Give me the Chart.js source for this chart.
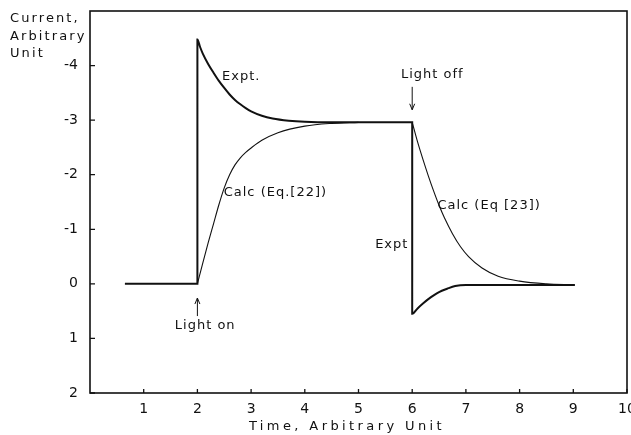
<!DOCTYPE html>
<html>
<head>
<meta charset="utf-8">
<script src="https://cdn.jsdelivr.net/npm/chart.js@4/dist/chart.umd.min.js"></script>
<style>
  html, body { margin: 0; padding: 0; background: #fff; }
  #wrap { width: 631px; height: 435px; }
</style>
</head>
<body>
<div id="wrap"><canvas id="chart"></canvas></div>
<script>
// values (x: time, y: current, y axis runs downwards)
const exptX = [0.65, 2.0, 2.0, 2.05, 2.1, 2.2, 2.3, 2.4, 2.5, 2.6, 2.7, 2.8, 2.9, 3.0, 3.2, 3.4, 3.7, 4.0, 4.5, 5.0, 6.0,
  6.0, 6.1, 6.2, 6.3, 6.4, 6.5, 6.65, 6.8, 7.0, 9.03];
const exptY = [0, 0, -4.48, -4.34, -4.22, -4.03, -3.87, -3.72, -3.59, -3.47, -3.37, -3.29, -3.22, -3.16, -3.08, -3.03, -2.99, -2.97, -2.96, -2.96, -2.96,
  0.55, 0.45, 0.36, 0.28, 0.21, 0.15, 0.09, 0.04, 0.02, 0.02];

const calc22X = [2.0, 2.1, 2.2, 2.3, 2.4, 2.5, 2.6, 2.7, 2.8, 2.9, 3.0, 3.2, 3.5, 4.0, 4.5, 5.0];
const calc22Y = [0, -0.38, -0.75, -1.1, -1.45, -1.76, -2.0, -2.18, -2.31, -2.41, -2.49, -2.63, -2.77, -2.89, -2.94, -2.96];

const calc23X = [6.0, 6.1, 6.2, 6.3, 6.4, 6.5, 6.6, 6.75, 6.9, 7.05, 7.3, 7.6, 8.0, 8.5, 9.0];
const calc23Y = [-2.96, -2.6, -2.28, -1.98, -1.7, -1.44, -1.21, -0.92, -0.68, -0.5, -0.29, -0.14, -0.05, 0, 0.02];

const xTicks = [1, 2, 3, 4, 5, 6, 7, 8, 9, 10];
const yTicks = [-4, -3, -2, -1, 0, 1, 2];

const xTitle = "Time, Arbitrary Unit";
const yTitle = ["Current,", "Arbitrary", "Unit"];

// text labels in data units (left edge, middle)
const notes = [
  { text: "Expt.", x: 2.46, y: -3.8 },
  { text: "Calc (Eq.[22])", x: 2.49, y: -1.67 },
  { text: "Light off", x: 5.79, y: -3.83 },
  { text: "Expt", x: 5.31, y: -0.72 },
  { text: "Calc (Eq [23])", x: 6.47, y: -1.43 },
  { text: "Light on", x: 1.58, y: 0.77 }
];
// arrows: from -> to (head at "to")
const arrows = [
  { x: 6.0, from: -3.61, to: -3.19 },
  { x: 2.0, from: 0.59, to: 0.26 }
];

function pts(xs, ys) {
  return xs.map((x, i) => ({ x: x, y: ys[i] }));
}

const FONT = "'DejaVu Sans', sans-serif";
const INK = "#111";

const decorations = {
  id: "decorations",
  afterDraw(chart) {
    const ctx = chart.ctx;
    const a = chart.chartArea;
    const xs = chart.scales.x;
    const ys = chart.scales.y;
    ctx.save();
    ctx.strokeStyle = INK;
    ctx.fillStyle = INK;

    // frame
    ctx.lineWidth = 1.6;
    ctx.strokeRect(a.left, a.top, a.right - a.left, a.bottom - a.top);

    // inward ticks
    ctx.lineWidth = 1.3;
    ctx.beginPath();
    for (const t of xTicks) {
      const px = xs.getPixelForValue(t);
      ctx.moveTo(px, a.bottom);
      ctx.lineTo(px, a.bottom - 4);
    }
    for (const t of yTicks) {
      const py = ys.getPixelForValue(t);
      ctx.moveTo(a.left, py);
      ctx.lineTo(a.left + 5, py);
    }
    ctx.stroke();

    // arrows
    ctx.lineWidth = 1;
    for (const ar of arrows) {
      const px = xs.getPixelForValue(ar.x);
      const p1 = ys.getPixelForValue(ar.from);
      const p2 = ys.getPixelForValue(ar.to);
      const dir = p2 > p1 ? 1 : -1;
      ctx.beginPath();
      ctx.moveTo(px, p1);
      ctx.lineTo(px, p2);
      ctx.moveTo(px - 2.5, p2 - dir * 6);
      ctx.lineTo(px, p2);
      ctx.lineTo(px + 2.5, p2 - dir * 6);
      ctx.stroke();
    }

    // notes
    ctx.font = "13px " + FONT;
    ctx.letterSpacing = "1px";
    ctx.textAlign = "left";
    ctx.textBaseline = "middle";
    for (const n of notes) {
      ctx.fillText(n.text, xs.getPixelForValue(n.x), ys.getPixelForValue(n.y));
    }

    // axis titles
    ctx.font = "13px " + FONT;
    ctx.letterSpacing = "2.1px";
    yTitle.forEach((line, i) => ctx.fillText(line, 10, 19 + i * 17.5));
    ctx.textAlign = "center";
    ctx.letterSpacing = "3.4px";
    ctx.fillText(xTitle, 347, 427);
    ctx.restore();
  }
};

new Chart(document.getElementById("chart"), {
  type: "scatter",
  data: {
    datasets: [
      {
        label: "Expt",
        data: pts(exptX, exptY),
        showLine: true,
        borderColor: INK,
        borderWidth: 2,
        pointRadius: 0,
        cubicInterpolationMode: "monotone"
      },
      {
        label: "Calc (Eq.[22])",
        data: pts(calc22X, calc22Y),
        showLine: true,
        borderColor: INK,
        borderWidth: 1.1,
        pointRadius: 0,
        cubicInterpolationMode: "monotone"
      },
      {
        label: "Calc (Eq [23])",
        data: pts(calc23X, calc23Y),
        showLine: true,
        borderColor: INK,
        borderWidth: 1.1,
        pointRadius: 0,
        cubicInterpolationMode: "monotone"
      }
    ]
  },
  options: {
    responsive: true,
    maintainAspectRatio: false,
    animation: false,
    layout: { padding: { left: 0, right: 4, top: 11, bottom: 0 } },
    plugins: {
      legend: { display: false },
      tooltip: { enabled: false }
    },
    scales: {
      x: {
        type: "linear",
        min: 0,
        max: 10,
        grid: { display: false, drawTicks: false },
        border: { display: false },
        ticks: {
          stepSize: 1,
          padding: 8,
          color: INK,
          font: { family: FONT, size: 14 },
          maxRotation: 0,
          callback: (v) => (v === 0 ? "" : v)
        },
        afterFit: (s) => {
          s.height = 42;
          s.paddingLeft = 0;
          s.paddingRight = 0;
        }
      },
      y: {
        type: "linear",
        min: -5,
        max: 2,
        reverse: true,
        grid: { display: false, drawTicks: false },
        border: { display: false },
        ticks: {
          stepSize: 1,
          padding: 12,
          color: INK,
          font: { family: FONT, size: 14 },
          callback: (v) => (v === -5 ? "" : v)
        },
        afterFit: (s) => {
          s.width = 90;
          s.paddingTop = 0;
          s.paddingBottom = 0;
        }
      }
    }
  },
  plugins: [decorations]
});
</script>
</body>
</html>
